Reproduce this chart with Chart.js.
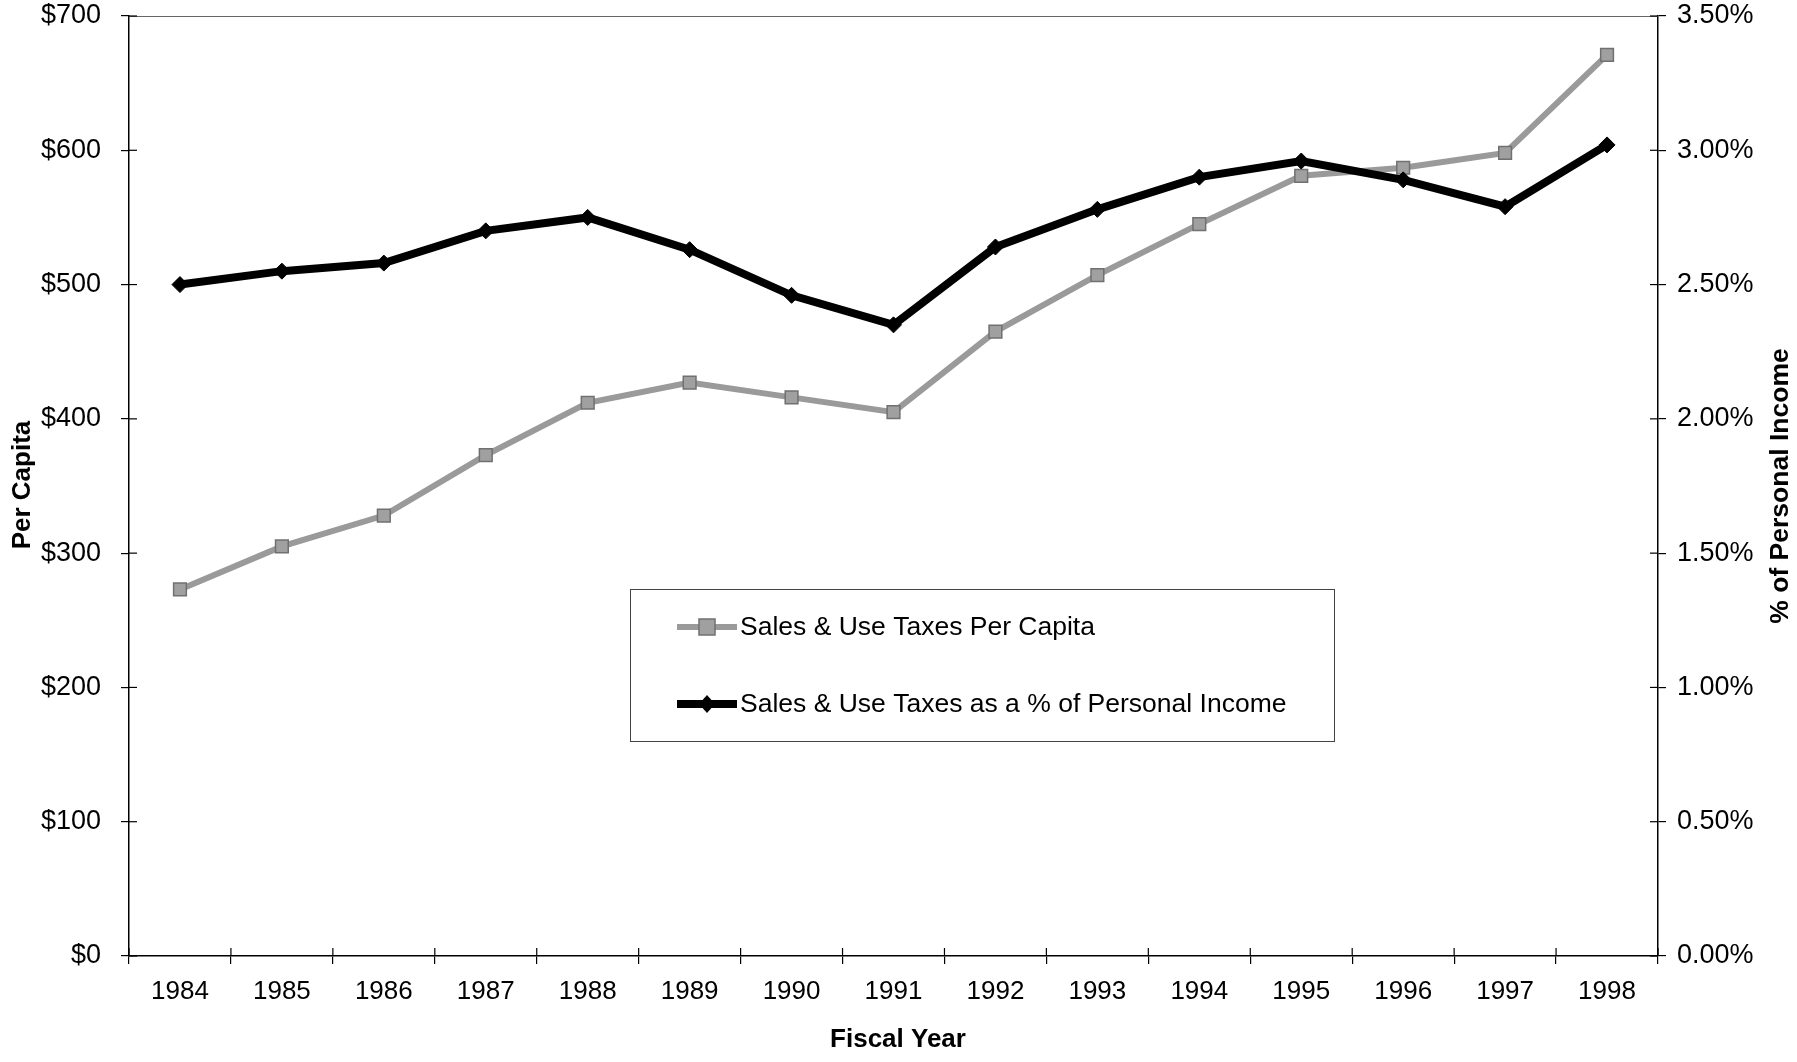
<!DOCTYPE html>
<html>
<head>
<meta charset="utf-8">
<script src="https://cdn.jsdelivr.net/npm/chart.js@4/dist/chart.umd.min.js"></script>
<style>
html,body{margin:0;padding:0;background:#fff;}
#wrap{width:1797px;height:1062px;position:relative;}
</style>
</head>
<body>
<div id="wrap"><canvas id="c" width="1797" height="1062"></canvas></div>
<script>
const years = ['1984','1985','1986','1987','1988','1989','1990','1991','1992','1993','1994','1995','1996','1997','1998'];
const perCapita = [273, 305, 328, 373, 412, 427, 416, 405, 465, 507, 545, 581, 587, 598, 671];
const pctIncome = [2.50, 2.55, 2.58, 2.70, 2.75, 2.63, 2.46, 2.35, 2.64, 2.78, 2.90, 2.96, 2.89, 2.79, 3.02];
const seriesNames = ['Sales & Use Taxes Per Capita', 'Sales & Use Taxes as a % of Personal Income'];
const leftTicks = [0, 100, 200, 300, 400, 500, 600, 700];
const rightTicks = [0, 0.5, 1.0, 1.5, 2.0, 2.5, 3.0, 3.5];
const axisTitles = {x: 'Fiscal Year', left: 'Per Capita', right: '% of Personal Income'};

const FONT = '"Liberation Sans", Arial, sans-serif';

const decor = {
  id: 'decor',
  afterDraw(chart) {
    const ctx = chart.ctx;
    const a = chart.chartArea;
    const xs = chart.scales.x, yl = chart.scales.y, yr = chart.scales.y1;
    ctx.save();
    // top border
    ctx.strokeStyle = '#666';
    ctx.lineWidth = 1.2;
    ctx.beginPath(); ctx.moveTo(a.left, a.top + 0.5); ctx.lineTo(a.right, a.top + 0.5); ctx.stroke();
    // inner tick stubs
    ctx.strokeStyle = '#000';
    ctx.lineWidth = 1.2;
    leftTicks.forEach(v => { const y = yl.getPixelForValue(v); ctx.beginPath(); ctx.moveTo(a.left, y); ctx.lineTo(a.left + 8, y); ctx.stroke(); });
    rightTicks.forEach(v => { const y = yr.getPixelForValue(v); ctx.beginPath(); ctx.moveTo(a.right - 8, y); ctx.lineTo(a.right, y); ctx.stroke(); });
    const step = xs.getPixelForValue(1) - xs.getPixelForValue(0);
    for (let i = 0; i <= years.length; i++) {
      const x = xs.getPixelForValue(i) - step / 2;
      ctx.beginPath(); ctx.moveTo(x, a.bottom - 8); ctx.lineTo(x, a.bottom); ctx.stroke();
    }
    // axis titles
    ctx.fillStyle = '#000';
    ctx.font = 'bold 26px ' + FONT;
    ctx.textAlign = 'center'; ctx.textBaseline = 'middle';
    ctx.fillText(axisTitles.x, 898, 1040);
    ctx.save(); ctx.translate(23, 485); ctx.rotate(-Math.PI / 2); ctx.fillText(axisTitles.left, 0, 0); ctx.restore();
    ctx.font = 'bold 26.5px ' + FONT;
    ctx.save(); ctx.translate(1781, 486); ctx.rotate(-Math.PI / 2); ctx.fillText(axisTitles.right, 0, 0); ctx.restore();
    // legend box
    const bx = 630, by = 589, bw = 704, bh = 152;
    ctx.fillStyle = '#fff';
    ctx.fillRect(bx, by, bw, bh);
    ctx.strokeStyle = '#444'; ctx.lineWidth = 1;
    ctx.strokeRect(bx + 0.5, by + 0.5, bw, bh);
    const ds = chart.data.datasets;
    const rows = [627, 704];
    ds.forEach((d, i) => {
      const y = rows[i];
      ctx.strokeStyle = d.borderColor; ctx.lineWidth = d.borderWidth;
      ctx.beginPath(); ctx.moveTo(677, y); ctx.lineTo(737, y); ctx.stroke();
      ctx.fillStyle = d.pointBackgroundColor; ctx.strokeStyle = d.pointBorderColor; ctx.lineWidth = 1.5;
      const cx = 707;
      if (d.pointStyle === 'rect') {
        ctx.fillRect(cx - 8, y - 8, 16, 16); ctx.strokeRect(cx - 8, y - 8, 16, 16);
      } else {
        ctx.beginPath(); ctx.moveTo(cx, y - 9); ctx.lineTo(cx + 8, y); ctx.lineTo(cx, y + 9); ctx.lineTo(cx - 8, y); ctx.closePath(); ctx.fill();
      }
      ctx.fillStyle = '#000';
      ctx.font = '26.5px ' + FONT;
      ctx.textAlign = 'left'; ctx.textBaseline = 'middle';
      ctx.fillText(d.label, 740, y + 1);
    });
    ctx.restore();
  }
};

function noPad(s) { s.paddingTop = 0; s.paddingBottom = 0; }

new Chart(document.getElementById('c'), {
  type: 'line',
  data: {
    labels: years,
    datasets: [
      {
        label: seriesNames[0], data: perCapita, yAxisID: 'y',
        borderColor: '#9a9a9a', borderWidth: 6,
        pointStyle: 'rect', pointRadius: 9, pointBackgroundColor: '#a0a0a0', pointBorderColor: '#707070', pointBorderWidth: 1.5,
        tension: 0, order: 2
      },
      {
        label: seriesNames[1], data: pctIncome, yAxisID: 'y1',
        borderColor: '#000', borderWidth: 8,
        pointStyle: 'rectRot', pointRadius: 8, pointBackgroundColor: '#000', pointBorderColor: '#000', pointBorderWidth: 1,
        tension: 0, order: 1
      }
    ]
  },
  options: {
    responsive: false, animation: false,
    layout: {padding: {top: 16, left: 0, right: 0, bottom: 0}},
    plugins: {legend: {display: false}, tooltip: {enabled: false}},
    scales: {
      x: {
        type: 'category', offset: true,
        grid: {display: true, drawOnChartArea: false, drawTicks: true, tickLength: 8, offset: true, color: '#000', lineWidth: 1.2},
        border: {display: true, color: '#000', width: 1.5},
        ticks: {color: '#000', font: {family: FONT, size: 26}, padding: 12, maxRotation: 0, autoSkip: false},
        afterFit(s) { s.height = 106; s.paddingLeft = 0; s.paddingRight = 0; }
      },
      y: {
        position: 'left', min: 0, max: 700,
        afterBuildTicks(s) { s.ticks = leftTicks.map(v => ({value: v})); },
        grid: {display: true, drawOnChartArea: false, drawTicks: true, tickLength: 8, color: '#000', lineWidth: 1.2},
        border: {display: true, color: '#000', width: 1.5},
        ticks: {color: '#000', font: {family: FONT, size: 27}, padding: 20, callback: v => '$' + v},
        afterFit(s) { s.width = 129; noPad(s); }
      },
      y1: {
        position: 'right', min: 0, max: 3.5,
        afterBuildTicks(s) { s.ticks = rightTicks.map(v => ({value: v})); },
        grid: {display: true, drawOnChartArea: false, drawTicks: true, tickLength: 8, color: '#000', lineWidth: 1.2},
        border: {display: true, color: '#000', width: 1.5},
        ticks: {color: '#000', font: {family: FONT, size: 27}, padding: 11, callback: v => v.toFixed(2) + '%'},
        afterFit(s) { s.width = 139; noPad(s); }
      }
    }
  },
  plugins: [decor]
});
</script>
</body>
</html>
